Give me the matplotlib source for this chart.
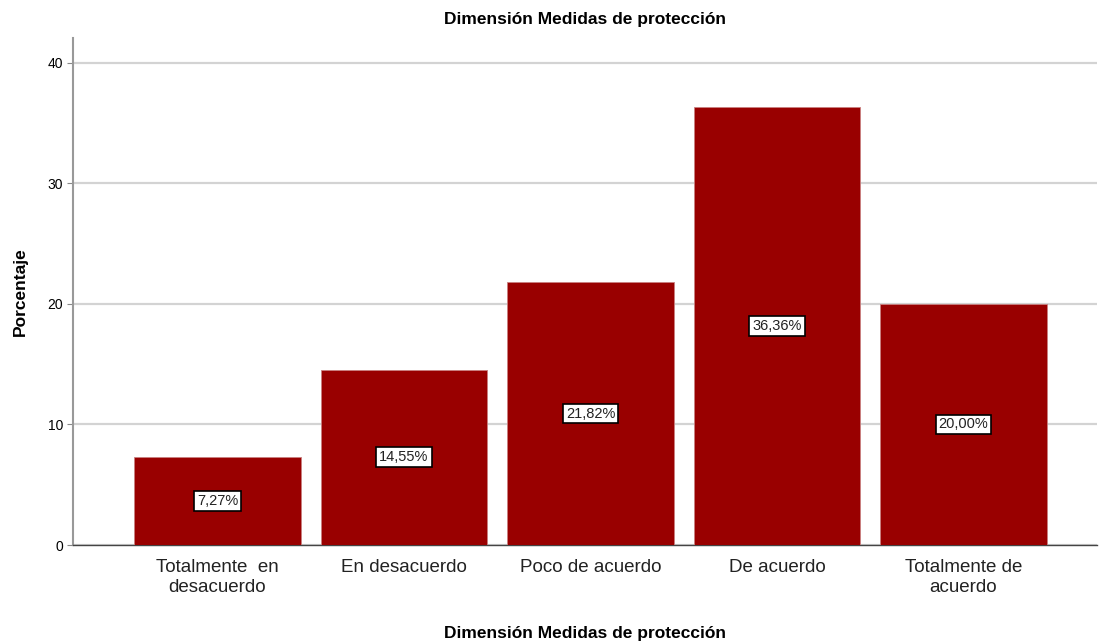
import matplotlib
matplotlib.use("Agg")
import matplotlib.pyplot as plt

plt.rcParams["font.family"] = ["Liberation Sans", "DejaVu Sans"]

categorias = ["Totalmente  en\ndesacuerdo", "En desacuerdo", "Poco de acuerdo",
              "De acuerdo", "Totalmente de\nacuerdo"]
porcentajes = [7.27, 14.55, 21.82, 36.36, 20.00]
etiquetas = ["7,27%", "14,55%", "21,82%", "36,36%", "20,00%"]
yticks = [0, 10, 20, 30, 40]

fig = plt.figure(figsize=(11.02, 6.44), dpi=100)
ax = fig.add_axes([0.0662, 0.1537, 0.9293, 0.7873])

x = list(range(len(categorias)))
ax.bar(x, porcentajes, width=0.895, color="#990000", edgecolor="#c98080",
       linewidth=0.6, zorder=3)

for xi, v, t in zip(x, porcentajes, etiquetas):
    ax.text(xi, v / 2, t, ha="center", va="center", fontsize=10.5, zorder=4,
            color="#222222",
            bbox=dict(boxstyle="square,pad=0.2", fc="white", ec="black", lw=1.2))

ax.set_xlim(-0.775, 4.716)
ax.set_ylim(0, 42.07)
ax.set_yticks(yticks)
ax.tick_params(axis="y", labelsize=10, length=4, color="#888888", pad=3)
ax.tick_params(axis="x", length=0, labelsize=13.5, pad=10, labelcolor="#222222")
ax.set_xticks(x)
ax.set_xticklabels(categorias, linespacing=1.2)
ax.yaxis.grid(True, color="#d3d3d3", linewidth=1.6, zorder=0)
ax.set_axisbelow(True)

for s in ["top", "right"]:
    ax.spines[s].set_visible(False)
ax.spines["left"].set_color("#999999")
ax.spines["left"].set_linewidth(1.5)
ax.spines["bottom"].set_color("#444444")
ax.spines["bottom"].set_linewidth(1)

ax.set_title("Dimensión Medidas de protección", fontsize=12.5, fontweight="bold", pad=10)
ax.set_xlabel("Dimensión Medidas de protección", fontsize=12.5, fontweight="bold", labelpad=22)
ax.set_ylabel("Porcentaje", fontsize=12.5, fontweight="bold", labelpad=14)

fig.savefig("out.png", dpi=100)
